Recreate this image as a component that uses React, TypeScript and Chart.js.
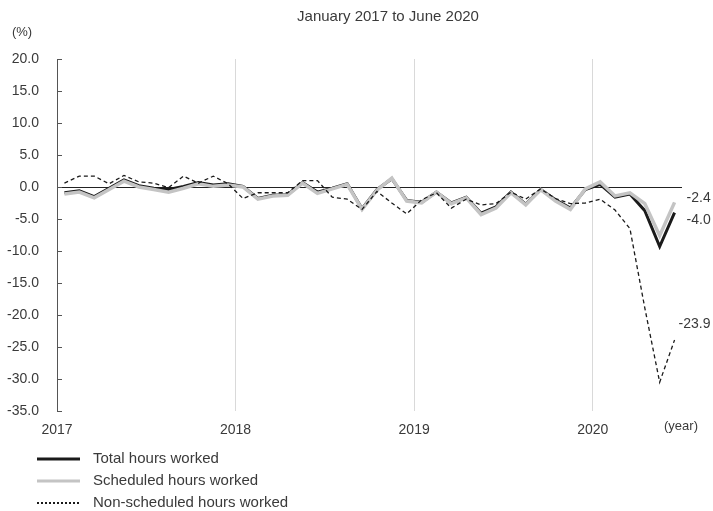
import React, { useEffect, useRef } from 'react';
import { Chart, registerables } from 'chart.js';

Chart.register(...registerables);

const monthNames = ['Jan', 'Feb', 'Mar', 'Apr', 'May', 'Jun', 'Jul', 'Aug', 'Sep', 'Oct', 'Nov', 'Dec'];
const years = ['2017', '2018', '2019', '2020'];
const months: string[] = years.flatMap((y) => monthNames.map((m) => `${m} ${y}`)).slice(0, 42);
const yearStarts = [0, 12, 24, 36];

const totalHours = [
  -0.9, -0.6, -1.5, -0.2, 1.1, 0.2, -0.2, -0.4, 0.1, 0.7, 0.3, 0.5,
  0.1, -1.8, -1.3, -1.2, 0.7, -0.8, -0.2, 0.5, -3.4, -0.4, 1.3, -2.1,
  -2.4, -0.8, -2.5, -1.6, -4.1, -3.1, -0.8, -2.7, -0.4, -2.0, -3.3, -0.4,
  0.4, -1.6, -1.1, -3.7, -9.3, -4.0,
];
const scheduledHours = [
  -1.1, -0.8, -1.7, -0.4, 0.9, 0.0, -0.4, -0.8, -0.2, 0.5, 0.1, 0.3,
  0.0, -1.9, -1.4, -1.3, 0.6, -1.0, -0.3, 0.4, -3.5, -0.5, 1.4, -2.2,
  -2.5, -0.8, -2.6, -1.7, -4.3, -3.3, -0.9, -2.8, -0.4, -2.2, -3.5, -0.3,
  0.8, -1.4, -0.9, -2.6, -7.6, -2.4,
];
const nonScheduledHours = [
  0.6, 1.7, 1.7, 0.5, 1.8, 0.8, 0.6, -0.1, 1.7, 0.6, 1.7, 0.5,
  -1.8, -0.9, -0.9, -0.9, 1.0, 1.0, -1.6, -1.9, -3.5, -0.7, -2.5, -4.2,
  -2.0, -0.9, -3.3, -1.9, -2.8, -2.6, -0.8, -1.9, -0.3, -1.8, -2.6, -2.5,
  -1.9, -3.6, -6.5, -18.9, -30.5, -23.9,
];

const seriesNames = ['Total hours worked', 'Scheduled hours worked', 'Non-scheduled hours worked'];
const titleText = 'January 2017 to June 2020';

const FONT = "'Liberation Sans', Arial, sans-serif";
const TEXT = '#3a3a3a';

const toPoints = (arr: number[]) => arr.map((v, i) => ({ x: i + 0.5, y: v }));

export default function App() {
  const ref = useRef<HTMLCanvasElement | null>(null);

  useEffect(() => {
    if (!ref.current) return;

    const decor = {
      id: 'decor',
      afterDraw(chart: any) {
        const { ctx, chartArea, scales } = chart;
        const xs = scales.x;
        const ys = scales.y;
        ctx.save();
        // inward tick marks on y axis
        ctx.strokeStyle = '#555';
        ctx.lineWidth = 1;
        ys.ticks.forEach((t: any) => {
          const y = Math.round(ys.getPixelForValue(t.value)) + 0.5;
          ctx.beginPath();
          ctx.moveTo(chartArea.left, y);
          ctx.lineTo(chartArea.left + 5, y);
          ctx.stroke();
        });
        ctx.fillStyle = TEXT;
        ctx.textBaseline = 'middle';
        // title
        ctx.font = `15px ${FONT}`;
        ctx.textAlign = 'center';
        ctx.fillText(titleText, 388, 17);
        // unit labels
        ctx.font = `13px ${FONT}`;
        ctx.fillText('(%)', 22, 32);
        ctx.fillText('(year)', 681, 426);
        // end labels
        ctx.font = `14px ${FONT}`;
        ctx.textAlign = 'left';
        const last = months.length - 1;
        const lx = xs.getPixelForValue(last + 0.5);
        ctx.fillText(scheduledHours[last].toFixed(1), lx + 12, ys.getPixelForValue(scheduledHours[last]) - 4);
        ctx.fillText(totalHours[last].toFixed(1), lx + 12, ys.getPixelForValue(totalHours[last]) + 8);
        ctx.fillText(nonScheduledHours[last].toFixed(1), lx + 4, ys.getPixelForValue(nonScheduledHours[last]) - 16);
        // legend
        const rows = [459, 481, 503];
        ctx.font = `15px ${FONT}`;
        ctx.textAlign = 'left';
        rows.forEach((ry, i) => {
          ctx.beginPath();
          if (i === 0) {
            ctx.strokeStyle = '#1a1a1a';
            ctx.lineWidth = 3;
            ctx.setLineDash([]);
          } else if (i === 1) {
            ctx.strokeStyle = '#c4c4c4';
            ctx.lineWidth = 3;
            ctx.setLineDash([]);
          } else {
            ctx.strokeStyle = '#1a1a1a';
            ctx.lineWidth = 2;
            ctx.setLineDash([2, 2]);
          }
          ctx.moveTo(37, ry);
          ctx.lineTo(80, ry);
          ctx.stroke();
          ctx.setLineDash([]);
          ctx.fillStyle = TEXT;
          ctx.fillText(seriesNames[i], 93, ry);
        });
        ctx.restore();
      },
    };

    const chart = new Chart(ref.current, {
      type: 'line',
      data: {
        datasets: [
          {
            label: seriesNames[2],
            data: toPoints(nonScheduledHours),
            borderColor: '#1a1a1a',
            borderWidth: 1.3,
            borderDash: [4, 3],
            pointRadius: 0,
            tension: 0,
            order: 0,
          },
          {
            label: seriesNames[1],
            data: toPoints(scheduledHours),
            borderColor: '#c4c4c4',
            borderWidth: 3.5,
            pointRadius: 0,
            tension: 0,
            order: 1,
          },
          {
            label: seriesNames[0],
            data: toPoints(totalHours),
            borderColor: '#1a1a1a',
            borderWidth: 3,
            pointRadius: 0,
            tension: 0,
            order: 2,
          },
        ],
      },
      options: {
        animation: false,
        responsive: false,
        maintainAspectRatio: false,
        layout: { padding: { left: 0, top: 59, right: 31, bottom: 70 } },
        plugins: {
          legend: { display: false },
          tooltip: { enabled: false },
          title: { display: false },
        },
        scales: {
          x: {
            type: 'linear',
            min: 0,
            max: months.length,
            afterBuildTicks: (scale: any) => {
              scale.ticks = yearStarts.map((v) => ({ value: v }));
            },
            afterFit: (scale: any) => {
              scale.height = 30;
            },
            ticks: {
              autoSkip: false,
              maxRotation: 0,
              padding: 11,
              color: TEXT,
              font: { family: FONT, size: 14 },
              callback: (v: any) => years[yearStarts.indexOf(Number(v))] ?? '',
            },
            grid: {
              drawTicks: false,
              lineWidth: 1,
              color: (c: any) => (c.tick && c.tick.value === 0 ? 'rgba(0,0,0,0)' : '#d9d9d9'),
            },
            border: { display: false },
          },
          y: {
            type: 'linear',
            min: -35,
            max: 20,
            afterFit: (scale: any) => {
              scale.width = 57;
            },
            ticks: {
              stepSize: 5,
              padding: 18,
              color: TEXT,
              font: { family: FONT, size: 14 },
              callback: (v: any) => Number(v).toFixed(1),
            },
            grid: {
              drawTicks: false,
              lineWidth: 1,
              color: (c: any) => (c.tick && c.tick.value === 0 ? '#222222' : 'rgba(0,0,0,0)'),
            },
            border: { display: true, color: '#555555', width: 1 },
          },
        },
      },
      plugins: [decor],
    });

    return () => chart.destroy();
  }, []);

  return (
    <div style={{ position: 'absolute', left: 0, top: 0, width: 713, height: 511, background: '#fff' }}>
      <canvas ref={ref} width={713} height={511} style={{ display: 'block', width: 713, height: 511 }} />
    </div>
  );
}
